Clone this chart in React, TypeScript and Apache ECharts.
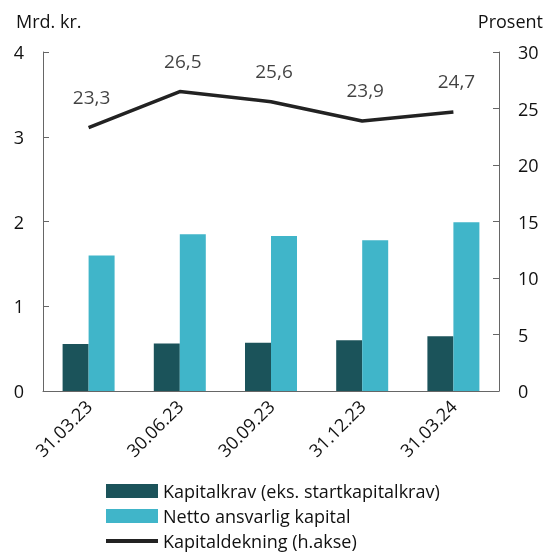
import React, { useEffect, useRef } from "react";
import * as echarts from "echarts";

const categories = ["31.03.23", "30.06.23", "30.09.23", "31.12.23", "31.03.24"];
const kapitalkrav = [0.555, 0.56, 0.57, 0.6, 0.645];
const nettoKapital = [1.6, 1.85, 1.83, 1.78, 1.99];
const kapitaldekning = [23.3, 26.5, 25.6, 23.9, 24.7];
const leftTicks = [0, 1, 2, 3, 4];
const rightTicks = [0, 5, 10, 15, 20, 25, 30];
const seriesNames = ["Kapitalkrav (eks. startkapitalkrav)", "Netto ansvarlig kapital", "Kapitaldekning (h.akse)"];

const FONT = "'Open Sans', sans-serif";
const FS = 18;
const TXT = "#111111";
const AXIS = "#666666";

export default function App() {
  const ref = useRef<HTMLDivElement>(null);
  useEffect(() => {
    const chart = echarts.init(ref.current!, undefined, { renderer: "svg" });
    const legendBase = {
      orient: "vertical",
      left: 106,
      itemWidth: 52,
      itemHeight: 14,
      padding: 0,
      symbolKeepAspect: true,
      textStyle: { fontFamily: FONT, fontSize: FS, color: TXT, lineHeight: 20 },
    };
    chart.setOption({
      animation: false,
      textStyle: { fontFamily: FONT },
      grid: { left: 43, right: 53, top: 52, bottom: 162, containLabel: false },
      graphic: [
        { type: "text", left: 16, top: 12, style: { text: "Mrd. kr.", font: `${FS}px ${FONT}`, fill: TXT } },
        { type: "text", right: 9, top: 12, style: { text: "Prosent", font: `${FS}px ${FONT}`, fill: TXT } },
      ],
      legend: [
        { ...legendBase, top: 481, data: [{ name: seriesNames[0], icon: "rect" }] },
        { ...legendBase, top: 506, data: [{ name: seriesNames[1], icon: "rect" }] },
        {
          ...legendBase,
          top: 531,
          data: [{ name: seriesNames[2], icon: "path://M0,0 H52 V4 H0 Z", itemStyle: { color: "#222222" } }],
        },
      ],
      xAxis: {
        type: "category",
        data: categories,
        boundaryGap: true,
        axisLine: { lineStyle: { color: AXIS, width: 1 } },
        axisTick: { inside: true, length: 6, lineStyle: { color: AXIS } },
        axisLabel: { rotate: 45, fontSize: FS, color: TXT, fontFamily: FONT, margin: 12 },
      },
      yAxis: [
        {
          type: "value",
          min: leftTicks[0],
          max: leftTicks[leftTicks.length - 1],
          interval: 1,
          splitLine: { show: false },
          axisLine: { show: true, lineStyle: { color: AXIS } },
          axisTick: { show: true, inside: true, length: 6, lineStyle: { color: AXIS } },
          axisLabel: { fontSize: FS, color: TXT, fontFamily: FONT, margin: 19 },
        },
        {
          type: "value",
          min: rightTicks[0],
          max: rightTicks[rightTicks.length - 1],
          interval: 5,
          position: "right",
          splitLine: { show: false },
          axisLine: { show: true, lineStyle: { color: AXIS } },
          axisTick: { show: true, inside: true, length: 6, lineStyle: { color: AXIS } },
          axisLabel: { fontSize: FS, color: TXT, fontFamily: FONT, margin: 19 },
        },
      ],
      series: [
        {
          name: seriesNames[0],
          type: "bar",
          data: kapitalkrav,
          barWidth: 26,
          barGap: "0%",
          itemStyle: { color: "#1b535a" },
        },
        {
          name: seriesNames[1],
          type: "bar",
          data: nettoKapital,
          barWidth: 26,
          barGap: "0%",
          itemStyle: { color: "#40b5c9" },
        },
        {
          name: seriesNames[2],
          type: "line",
          yAxisIndex: 1,
          data: kapitaldekning,
          symbol: "none",
          lineStyle: { color: "#222222", width: 3.5 },
          itemStyle: { color: "#222222" },
        },
        {
          name: "labels",
          type: "scatter",
          yAxisIndex: 1,
          data: kapitaldekning,
          symbolSize: 0.1,
          itemStyle: { color: "transparent" },
          silent: true,
          label: {
            show: true,
            position: "top",
            distance: 21,
            offset: [3, 0],
            fontSize: 19,
            color: TXT,
            fontFamily: FONT,
            formatter: (p: any) => String(p.value).replace(".", ","),
          },
        },
      ],
    });
    return () => chart.dispose();
  }, []);
  return <div ref={ref} style={{ position: "fixed", left: 0, top: 0, width: 552, height: 553 }} />;
}
